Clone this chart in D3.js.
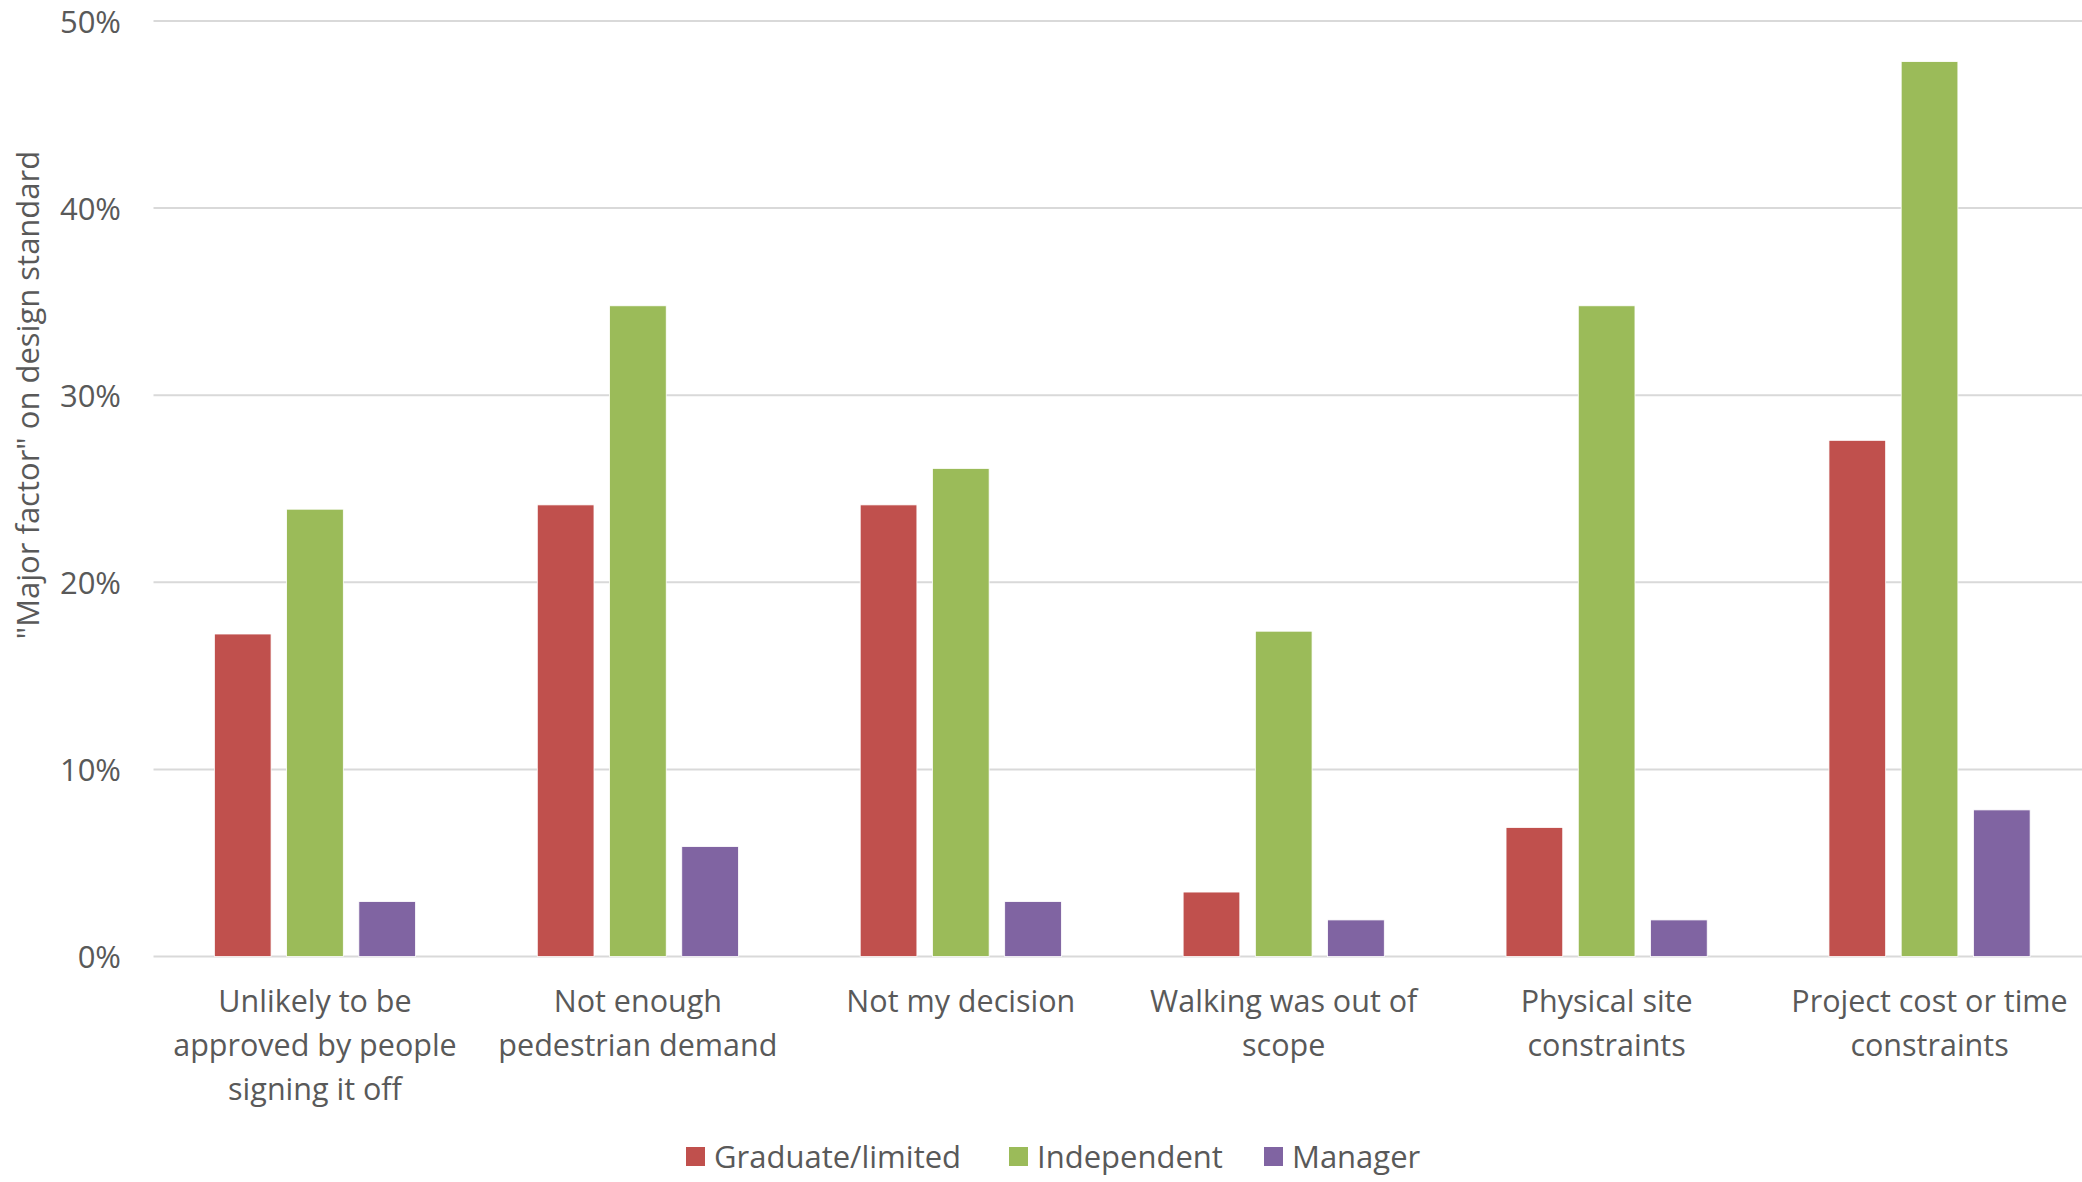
<!DOCTYPE html>
<html>
<head>
<meta charset="utf-8">
<script src="https://cdn.jsdelivr.net/npm/d3@7"></script>
<style>
  html, body { margin: 0; padding: 0; background: #ffffff; }
  svg { display: block; }
</style>
</head>
<body>
<svg id="chart" width="2082" height="1182"></svg>
<script>
const categories = [
  "Unlikely to be\napproved by people\nsigning it off",
  "Not enough\npedestrian demand",
  "Not my decision",
  "Walking was out of\nscope",
  "Physical site\nconstraints",
  "Project cost or time\nconstraints"
];
const seriesNames = ["Graduate/limited", "Independent", "Manager"];
const graduate    = [0.1724, 0.2414, 0.2414, 0.0345, 0.0690, 0.2759];
const independent = [0.2391, 0.3478, 0.2609, 0.1739, 0.3478, 0.4783];
const manager     = [0.0294, 0.0588, 0.0294, 0.0196, 0.0196, 0.0784];
const yTicks = [0, 0.1, 0.2, 0.3, 0.4, 0.5];
const colors = ["#C0504D", "#9BBB59", "#8064A2"];
const yTitle = "\"Major factor\" on design standard";

(function () {
const seriesValues = [graduate, independent, manager];
const rows = categories.map((c, i) => ({
  cat: c,
  vals: seriesNames.map((s, j) => ({ key: s, value: seriesValues[j][i] }))
}));

const svg = d3.select("#chart");
const plotLeft = 153.5, plotRight = 2091, gridRight = 2082, plotTop = 21, plotBottom = 956.6;
const textColor = "#595959";
const font = "'Open Sans', sans-serif";

const x0 = d3.scaleBand().domain(categories).range([plotLeft, plotRight]).paddingInner(0).paddingOuter(0);
const groupW = x0.bandwidth() * 0.623;
const x1 = d3.scaleBand().domain(seriesNames).range([0, groupW]).paddingInner(0.215).paddingOuter(0);
const y = d3.scaleLinear().domain([0, 0.5]).range([plotBottom, plotTop]);
const color = d3.scaleOrdinal().domain(seriesNames).range(colors);

// gridlines
svg.append("g").selectAll("line").data(yTicks).join("line")
  .attr("x1", plotLeft).attr("x2", gridRight)
  .attr("y1", d => y(d)).attr("y2", d => y(d))
  .attr("stroke", "#D9D9D9").attr("stroke-width", 2);

// y axis labels
const yAxis = d3.axisLeft(y).tickValues(yTicks).tickFormat(d3.format(".0%")).tickSize(0).tickPadding(0);
const yg = svg.append("g").attr("transform", `translate(${121},0)`).call(yAxis);
yg.select(".domain").remove();
yg.selectAll("text")
  .attr("fill", textColor)
  .style("font-family", font)
  .style("font-size", "31px")
  .attr("dy", "0.36em");

// bars
const groups = svg.append("g").selectAll("g").data(rows).join("g")
  .attr("transform", d => `translate(${x0(d.cat) + (x0.bandwidth() - groupW) / 2},0)`);
groups.selectAll("rect").data(d => d.vals).join("rect")
  .attr("x", d => x1(d.key))
  .attr("width", x1.bandwidth())
  .attr("y", d => y(d.value))
  .attr("height", d => y(0) - y(d.value))
  .attr("fill", d => color(d.key))
  .attr("stroke", "#ffffff")
  .attr("stroke-width", 0.8);

// x axis category labels
const xAxis = d3.axisBottom(x0).tickSize(0).tickFormat("");
const xg = svg.append("g").attr("transform", `translate(0,${plotBottom})`).call(xAxis);
xg.select(".domain").remove();
xg.selectAll(".tick").each(function(d) {
  const lines = d.split("\n");
  const t = d3.select(this).append("text")
    .attr("fill", textColor)
    .attr("text-anchor", "middle")
    .style("font-family", font)
    .style("font-size", "30.5px");
  lines.forEach((ln, i) => {
    t.append("tspan").attr("x", 0).attr("y", 55.5 + i * 44).text(ln);
  });
});

// y axis title
svg.append("text")
  .attr("transform", `translate(39,395) rotate(-90)`)
  .attr("text-anchor", "middle")
  .attr("fill", textColor)
  .style("font-family", font)
  .style("font-size", "31px")
  .text(yTitle);

// legend
const legendX = [686, 1009, 1264];
const lg = svg.append("g").selectAll("g").data(seriesNames).join("g")
  .attr("transform", (d, i) => `translate(${legendX[i]},1147)`);
lg.append("rect").attr("width", 19).attr("height", 19).attr("fill", d => color(d));
lg.append("text")
  .attr("x", 28).attr("y", 9.5).attr("dy", "0.36em")
  .attr("fill", textColor)
  .style("font-family", font)
  .style("font-size", "31px")
  .text(d => d);
})();
</script>
</body>
</html>
